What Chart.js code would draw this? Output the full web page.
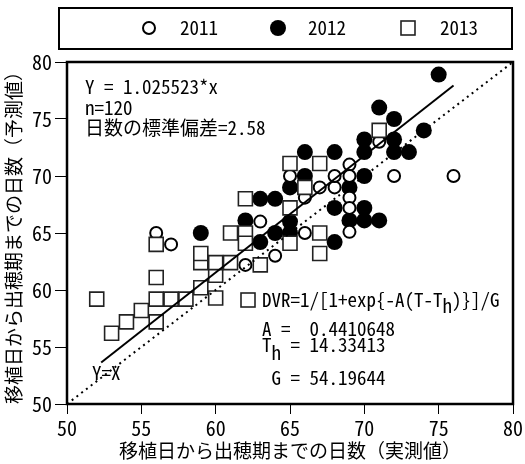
<!DOCTYPE html>
<html>
<head>
<meta charset="utf-8">
<script src="https://cdn.jsdelivr.net/npm/chart.js@4"></script>
<style>
    body { margin: 0; background: #ffffff; }
    #box { width: 525px; height: 464px; }
</style>
</head>
<body>
<div id="box"><canvas id="grafico"></canvas></div>
<script>
// 2011 (open circles): observed days, predicted days
const x2011 = [56, 57, 62, 63, 64, 65, 66, 66, 67, 68, 68, 69, 69, 69, 69, 69, 71, 72, 76];
const y2011 = [65, 64, 62.2, 66, 63, 70, 68.1, 65, 69, 69, 70, 71, 70, 68.1, 67.2, 65.1, 73, 70, 70];

// 2012 (filled circles)
const x2012 = [59, 62, 63, 63, 64, 64, 65, 65, 65, 66, 66, 68, 68, 68, 69, 69, 70, 70, 70, 70, 70, 71, 71, 72, 72, 72, 73, 74, 75];
const y2012 = [65, 66.1, 64.2, 68, 68, 65, 69, 66, 65, 70, 72.1, 72.1, 67.2, 64.2, 69, 66.1, 73.2, 72.1, 70, 67.2, 66.1, 76, 66.1, 75, 73.2, 72.1, 72.1, 74, 78.9];

// 2013 (squares)
const x2013 = [52, 53, 54, 55, 56, 56, 56, 56, 57, 58, 59, 59, 59, 60, 60, 60, 61, 61, 62, 62, 62, 63, 65, 65, 65, 66, 67, 67, 67, 71];
const y2013 = [59.2, 56.2, 57.2, 58.2, 59.2, 57.2, 61.1, 64, 59.2, 59.2, 60.2, 62.4, 63.2, 59.3, 61.3, 62.4, 62.4, 65, 65, 64.1, 68, 62.2, 71.1, 67.2, 64.1, 69, 71.1, 65, 63.2, 74];

// regression Y = 1.025523*x, drawn between these observed days
const pendente = 1.025523;
const retaX = [52.3, 76];
const identidadeX = [50, 80];

const FONTE = "'Noto Sans Mono CJK JP', 'Noto Sans CJK JP', 'DejaVu Sans Mono', monospace";

function pontos(xs, ys) {
    return xs.map((x, i) => ({ x: x, y: ys[i] }));
}

const molduraPlugin = {
    id: "moldura",
    afterDraw(chart) {
        const ctx = chart.ctx;
        const a = chart.chartArea;
        ctx.save();
        ctx.strokeStyle = "#000";
        ctx.lineWidth = 2.5;
        ctx.strokeRect(a.left, a.top, a.right - a.left, a.bottom - a.top);

        // legend box
        ctx.lineWidth = 2;
        ctx.strokeRect(59, 8, 453, 41);
        const ly = 28;
        ctx.beginPath();
        ctx.arc(149, ly, 6, 0, Math.PI * 2);
        ctx.fillStyle = "#fff";
        ctx.fill();
        ctx.lineWidth = 2;
        ctx.strokeStyle = "#000";
        ctx.stroke();
        ctx.beginPath();
        ctx.arc(278, ly, 8, 0, Math.PI * 2);
        ctx.fillStyle = "#000";
        ctx.fill();
        ctx.lineWidth = 1.6;
        ctx.strokeStyle = "#222";
        ctx.strokeRect(401, ly - 7, 14, 14);

        ctx.fillStyle = "#000";
        ctx.font = "19px " + FONTE;
        ctx.textBaseline = "middle";
        ctx.textAlign = "left";
        ctx.fillText("2011", 180, ly);
        ctx.fillText("2012", 308, ly);
        ctx.fillText("2013", 440, ly);

        // annotations
        ctx.fillText("Y = 1.025523*x", 85, 87);
        ctx.fillText("n=120", 85, 108);
        ctx.fillText("日数の標準偏差=2.58", 85, 128);
        ctx.fillText("Y=X", 92, 373);

        ctx.strokeRect(241, 293, 14, 14);
        let x = 262;
        ctx.fillText("DVR=1/[1+exp{-A(T-T", x, 300);
        x += ctx.measureText("DVR=1/[1+exp{-A(T-T").width;
        ctx.fillText("h", x, 306);
        x += ctx.measureText("h").width;
        ctx.fillText(")}]/G", x, 300);

        ctx.fillText("A =  0.4410648", 262, 329);
        ctx.fillText("T", 262, 345);
        const wT = ctx.measureText("T").width;
        ctx.fillText("h", 262 + wT, 353);
        ctx.fillText(" = 14.33413", 262 + wT * 2, 345);
        ctx.fillText(" G = 54.19644", 262, 378);
        ctx.restore();
    }
};

const ctx = document.getElementById("grafico").getContext("2d");

new Chart(ctx, {
    type: "scatter",
    data: {
        datasets: [
            {
                type: "line",
                label: "Y=X",
                data: identidadeX.map((v) => ({ x: v, y: v })),
                borderColor: "#000",
                borderWidth: 2,
                borderDash: [2, 4],
                pointRadius: 0,
                order: 0
            },
            {
                type: "line",
                label: "fit",
                data: retaX.map((v) => ({ x: v, y: v * pendente })),
                borderColor: "#000",
                borderWidth: 2,
                pointRadius: 0,
                order: 0
            },
            {
                label: "2013",
                data: pontos(x2013, y2013),
                pointStyle: "rect",
                pointRadius: 9.9,
                backgroundColor: "#fff",
                borderColor: "#222",
                borderWidth: 1.6,
                order: 1
            },
            {
                label: "2011",
                data: pontos(x2011, y2011),
                pointStyle: "circle",
                pointRadius: 6,
                backgroundColor: "#fff",
                borderColor: "#000",
                borderWidth: 2,
                order: 2
            },
            {
                label: "2012",
                data: pontos(x2012, y2012),
                pointStyle: "circle",
                pointRadius: 8,
                backgroundColor: "#000",
                borderColor: "#000",
                borderWidth: 0,
                order: 3
            }
        ]
    },
    options: {
        responsive: true,
        maintainAspectRatio: false,
        animation: false,
        events: [],
        layout: { padding: { top: 62, right: 10, left: 0, bottom: 0 } },
        scales: {
            x: {
                type: "linear",
                min: 50,
                max: 80,
                ticks: { stepSize: 5, color: "#000", padding: 2, font: { family: FONTE, size: 20 } },
                grid: { drawOnChartArea: false, tickLength: 10, tickColor: "#000", tickWidth: 1 },
                border: { display: false },
                title: {
                    display: true,
                    text: "移植日から出穂期までの日数（実測値）",
                    color: "#000",
                    font: { family: FONTE, size: 19 },
                    padding: { top: 0, bottom: 2 }
                },
                afterFit(s) { s.height = 60; }
            },
            y: {
                type: "linear",
                min: 50,
                max: 80,
                ticks: { stepSize: 5, color: "#000", padding: 3, font: { family: FONTE, size: 20 } },
                grid: { drawOnChartArea: false, tickLength: 12, tickColor: "#000", tickWidth: 1 },
                border: { display: false },
                title: {
                    display: true,
                    text: "移植日から出穂期までの日数（予測値）",
                    color: "#000",
                    font: { family: FONTE, size: 19 },
                    padding: { top: 2, bottom: 0 }
                },
                afterFit(s) { s.width = 67; }
            }
        },
        plugins: {
            legend: { display: false },
            tooltip: { enabled: false }
        }
    },
    plugins: [molduraPlugin]
});
</script>
</body>
</html>
